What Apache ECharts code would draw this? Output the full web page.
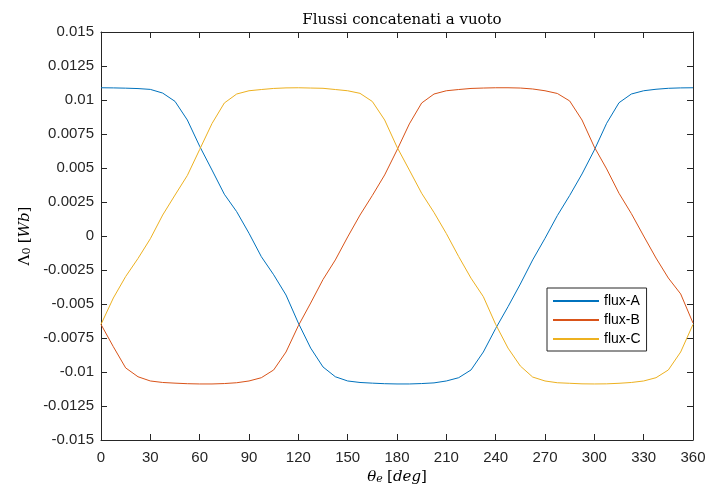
<!DOCTYPE html>
<html>
<head>
<meta charset="utf-8">
<script src="https://cdn.jsdelivr.net/npm/echarts@6/dist/echarts.min.js"></script>
<style>
  html, body { margin: 0; padding: 0; background: #fff; }
  #chart { width: 705px; height: 488px; }
</style>
</head>
<body>
<div id="chart"></div>
<script>
// electrical angle [deg]
var theta = [0, 7.5, 15, 22.5, 30, 37.5, 45, 52.5, 60, 67.5, 75, 82.5, 90, 97.5, 105, 112.5,
  120, 127.5, 135, 142.5, 150, 157.5, 165, 172.5, 180, 187.5, 195, 202.5, 210, 217.5, 225, 232.5,
  240, 247.5, 255, 262.5, 270, 277.5, 285, 292.5, 300, 307.5, 315, 322.5, 330, 337.5, 345, 352.5, 360];

var fluxA = [0.0109, 0.01089, 0.01087, 0.01084, 0.01078, 0.01051, 0.0099, 0.00853, 0.0066, 0.00485,
  0.00307, 0.00179, 0.0002, -0.00152, -0.00285, -0.00434, -0.0064, -0.00824, -0.00963, -0.01035,
  -0.01066, -0.01077, -0.01082, -0.01086, -0.01088, -0.01088, -0.01085, -0.0108, -0.01066, -0.01042,
  -0.00985, -0.00853, -0.0068, -0.0052, -0.00353, -0.00176, -0.00017, 0.0015, 0.00298, 0.00456,
  0.00632, 0.00829, 0.0098, 0.01044, 0.01068, 0.01079, 0.01086, 0.01089, 0.0109];

var fluxB = [-0.0065, -0.00814, -0.0097, -0.01035, -0.01066, -0.01077, -0.01082, -0.01086, -0.01088, -0.01088,
  -0.01085, -0.01079, -0.01066, -0.01042, -0.00985, -0.00853, -0.0066, -0.00493, -0.0032, -0.00176,
  -0.00007, 0.00154, 0.00298, 0.00449, 0.00632, 0.00824, 0.00978, 0.01044, 0.01068, 0.01077,
  0.01085, 0.01088, 0.0109, 0.0109, 0.01088, 0.01081, 0.01068, 0.01048, 0.00993, 0.00853,
  0.00654, 0.00493, 0.00314, 0.00165, 0.0, -0.00162, -0.00309, -0.00426, -0.0064];

var fluxC = [-0.0065, -0.00456, -0.00298, -0.00165, -0.0002, 0.00154, 0.00301, 0.00445, 0.00636, 0.00827,
  0.00978, 0.01044, 0.01068, 0.01077, 0.01085, 0.01089, 0.0109, 0.01088, 0.01086, 0.01077,
  0.01068, 0.01049, 0.00989, 0.00853, 0.00654, 0.00485, 0.00314, 0.00173, 0.00018, -0.00151,
  -0.0031, -0.00446, -0.0065, -0.00824, -0.00956, -0.01037, -0.01066, -0.01079, -0.01083, -0.01087,
  -0.01088, -0.01087, -0.01083, -0.01077, -0.01066, -0.01042, -0.00985, -0.00853, -0.0065];

var seriesNames = ['flux-A', 'flux-B', 'flux-C'];
var colors = ['#0072BD', '#D95319', '#EDB120'];

function pairs(ys) {
  return theta.map(function (t, i) { return [t, ys[i]]; });
}

var chart = echarts.init(document.getElementById('chart'));

var axisCol = '#262626';
var sans = 'Liberation Sans, Arial, sans-serif';
var serif = 'DejaVu Serif, serif';

var baseX = {
  type: 'value', min: 0, max: 360, interval: 30,
  axisLine: { show: true, onZero: false, lineStyle: { color: axisCol, width: 1 } },
  axisTick: { show: true, inside: true, length: 6, lineStyle: { color: axisCol } },
  splitLine: { show: false }
};
var baseY = {
  type: 'value', min: -0.015, max: 0.015, interval: 0.0025,
  axisLine: { show: true, onZero: false, lineStyle: { color: axisCol, width: 1 } },
  axisTick: { show: true, inside: true, length: 6, lineStyle: { color: axisCol } },
  splitLine: { show: false }
};

var nameRich = {
  it: { fontFamily: serif, fontStyle: 'italic', fontSize: 15, color: '#000' },
  rm: { fontFamily: serif, fontSize: 15, color: '#000' },
  subi: { fontFamily: serif, fontStyle: 'italic', fontSize: 11, color: '#000', verticalAlign: 'bottom', padding: [0, 1, 0, 0] },
  sub: { fontFamily: serif, fontSize: 11, color: '#000', verticalAlign: 'bottom', padding: [0, 1, 0, 0] }
};

option = {
  backgroundColor: '#fff',
  animation: false,
  title: {
    text: 'Flussi concatenati a vuoto',
    left: 397,
    top: 8,
    textAlign: 'center',
    textStyle: { fontFamily: serif, fontSize: 15, fontWeight: 'normal', color: '#000' }
  },
  grid: { left: 101, right: 12, top: 32, bottom: 48, containLabel: false, outerBoundsMode: 'none' },
  legend: {
    data: seriesNames,
    orient: 'vertical',
    left: 547,
    top: 288,
    backgroundColor: '#fff',
    borderColor: axisCol,
    borderWidth: 1,
    borderRadius: 0,
    padding: [6, 6, 5, 6],
    itemGap: 5,
    itemWidth: 46,
    itemHeight: 2,
    icon: 'rect',
    textStyle: { fontFamily: sans, fontSize: 14, color: '#000' }
  },
  xAxis: [
    Object.assign({}, baseX, {
      position: 'bottom',
      name: '{it|θ}{subi|e} {rm|[}{it|deg}{rm|]}',
      nameLocation: 'middle',
      nameGap: 29,
      nameTextStyle: { rich: nameRich },
      axisLabel: { fontFamily: sans, fontSize: 15, color: axisCol, margin: 10 }
    }),
    Object.assign({}, baseX, { position: 'top', axisLabel: { show: false } })
  ],
  yAxis: [
    Object.assign({}, baseY, {
      position: 'left',
      name: '{rm|Λ}{sub|0} {rm|[}{it|Wb}{rm|]}',
      nameLocation: 'middle',
      nameGap: 66,
      nameTextStyle: { rich: nameRich },
      axisLabel: {
        fontFamily: sans, fontSize: 15, color: axisCol, margin: 7,
        formatter: function (v) { return String(+v.toFixed(4)); }
      }
    }),
    Object.assign({}, baseY, { position: 'right', axisLabel: { show: false } })
  ],
  series: [fluxA, fluxB, fluxC].map(function (ys, i) {
    return {
      name: seriesNames[i],
      type: 'line',
      data: pairs(ys),
      showSymbol: false,
      symbol: 'none',
      lineStyle: { width: 1, color: colors[i] },
      itemStyle: { color: colors[i] }
    };
  })
};

chart.setOption(option);
</script>
</body>
</html>
